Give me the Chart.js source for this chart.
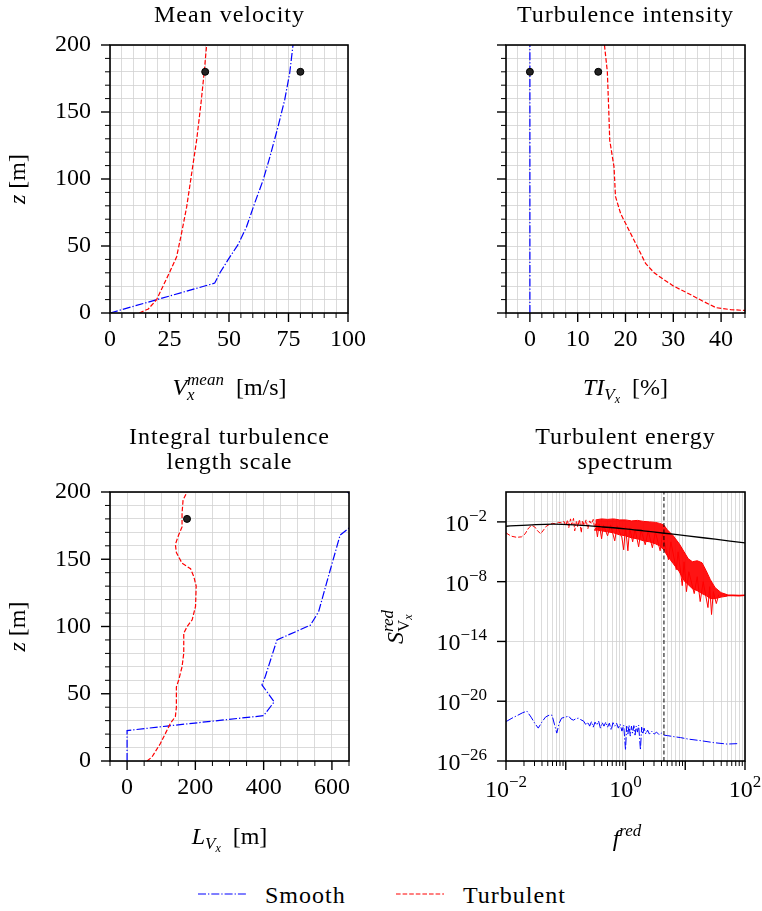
<!DOCTYPE html>
<html lang="en">
<head>
<meta charset="UTF-8">
<title>Wind profiles</title>
<script src="https://cdn.jsdelivr.net/npm/chart.js@4.4.1/dist/chart.umd.min.js"></script>
<style>
  body { margin: 0; background: #fff; }
  #fig { position: relative; width: 762px; height: 911px; overflow: hidden; }
  #fig canvas { position: absolute; }
  .key { position: absolute; font-family: 'Liberation Serif', serif; font-size: 24px; line-height: 24px; letter-spacing: 1px; color: #000; white-space: nowrap; }
  .swatch { position: absolute; }
</style>
</head>
<body>
<div id="fig">
  <canvas id="cVel" width="381" height="420" style="left:0;top:0"></canvas>
  <canvas id="cTi" width="392" height="420" style="left:370px;top:0"></canvas>
  <canvas id="cLen" width="381" height="440" style="left:0;top:420px"></canvas>
  <canvas id="cSpec" width="392" height="440" style="left:370px;top:420px"></canvas>

  <svg class="swatch" style="left:196px;top:888px" width="52" height="12">
    <line x1="2" y1="6" x2="50" y2="6" stroke="#0000ff" stroke-width="1.2" stroke-dasharray="8 2 1.3 2"/>
  </svg>
  <span class="key" style="left:265px;top:883px">Smooth</span>
  <svg class="swatch" style="left:394px;top:888px" width="52" height="12">
    <line x1="2" y1="6" x2="50" y2="6" stroke="#ff0000" stroke-width="1.2" stroke-dasharray="4.6 2"/>
  </svg>
  <span class="key" style="left:463px;top:883px">Turbulent</span>
</div>

<script>
// ---- data ----
// mean velocity [m/s] against height z [m]
const velSmoothZ = [0, 22.3, 30, 40, 51, 64, 82, 99, 116, 139, 159, 179, 200];
const velSmooth  = [0, 44.0, 46.2, 49.7, 53.8, 57.3, 60.8, 64.3, 67.1, 70.6, 73.4, 75.5, 76.9];
const velTurbZ = [0, 3, 10, 31, 42, 59, 79, 104, 129, 156, 180, 200];
const velTurb  = [12.3, 16.1, 19.6, 25.2, 28.0, 30.0, 32.2, 34.3, 36.4, 38.2, 39.6, 40.6];
const velRef = [40, 80];
const velRefZ = [180, 180];

// turbulence intensity [%]
const tiSmoothZ = [0, 200];
const tiSmooth  = [0, 0];
const tiTurbZ = [200, 180, 151, 129, 109, 87, 74, 62, 50, 37, 30, 25, 20, 15, 9, 4, 2.5, 2, 1.5];
const tiTurb  = [15.6, 16.2, 16.5, 16.7, 17.6, 17.9, 19.0, 20.7, 22.4, 24.2, 26.0, 28.0, 30.1, 32.9, 36.1, 38.9, 42.0, 44.5, 48.0];
const tiRef = [0, 14.3];
const tiRefZ = [180, 180];

// integral length scale [m]
const lenSmoothZ = [0, 22.6, 26, 33.7, 44, 56.6, 63, 90, 101, 111, 133, 168, 173, 185, 200];
const lenSmooth  = [0, 0, 117, 400, 431, 395, 405, 439, 537, 561, 585, 624, 649, 720, 645];
const lenTurbZ = [0, 3, 13, 28, 33, 40, 55, 60, 70, 80, 95, 100, 105, 115, 130, 137, 143, 147, 155, 161, 168, 174, 184, 194, 200];
const lenTurb  = [58.5, 73, 97.6, 127, 141.5, 144.4, 144.4, 151, 161, 166, 166, 176, 190.7, 200.5, 202.4, 195.6, 185.9, 161, 144.4, 141.5, 151, 161, 161, 164, 175.6];
const lenRef = [175.6];
const lenRefZ = [180];

// reduced spectra, pairs of [log10 f_red, log10 S_red]
// turbulent: sparse low-frequency part, dense noisy band (upper / lower edge), deep spikes, flat tail
const specTurbLow = [
  [-2.00,-3.10],[-1.95,-3.30],[-1.90,-3.45],[-1.82,-3.55],[-1.74,-3.50],[-1.68,-3.20],[-1.62,-2.60],
  [-1.57,-2.35],[-1.52,-2.50],[-1.47,-2.90],[-1.42,-3.20],[-1.37,-2.80],[-1.32,-2.40],[-1.27,-2.25],
  [-1.22,-2.15],[-1.17,-2.20],[-1.12,-2.05],[-1.07,-2.10],[-1.03,-1.95],
  [-1.00,-2.40],[-0.97,-1.80],[-0.95,-2.60],[-0.92,-1.70],[-0.90,-2.30],[-0.87,-1.65],[-0.85,-2.90],
  [-0.82,-1.90],[-0.80,-2.50],[-0.77,-1.75],[-0.74,-3.10],[-0.72,-1.85],[-0.69,-2.40],[-0.66,-1.80],
  [-0.63,-2.70],[-0.60,-1.90],[-0.57,-2.20],[-0.54,-1.75],[-0.51,-2.90],[-0.48,-1.85]
];
const specTurbUpper = [
  [-0.50,-1.80],[-0.40,-1.70],[-0.30,-1.75],[-0.20,-1.70],[-0.10,-1.80],[0.00,-1.80],[0.10,-1.90],
  [0.20,-1.85],[0.30,-1.95],[0.40,-2.00],[0.50,-2.05],[0.57,-2.15],[0.64,-2.30],[0.70,-2.80],
  [0.80,-3.40],[0.90,-4.20],[0.98,-5.00],[1.05,-5.70],[1.12,-6.00],[1.20,-5.90],[1.28,-6.10],
  [1.35,-6.90],[1.42,-7.80],[1.50,-8.60],[1.60,-9.10],[1.70,-9.30]
];
const specTurbLower = [
  [-0.50,-2.80],[-0.40,-2.90],[-0.30,-3.00],[-0.20,-3.10],[-0.10,-3.30],[0.00,-3.40],[0.10,-3.60],
  [0.20,-3.70],[0.30,-3.90],[0.40,-4.00],[0.50,-4.20],[0.57,-4.40],[0.64,-4.80],[0.70,-5.40],
  [0.80,-6.20],[0.90,-7.00],[0.98,-7.90],[1.05,-8.30],[1.12,-8.70],[1.20,-8.90],[1.28,-9.20],
  [1.35,-9.40],[1.42,-9.70],[1.50,-9.70],[1.60,-9.55],[1.70,-9.45]
];
const specTurbSpikes = [
  [-0.50,-2.20],[-0.47,-3.50],[-0.44,-2.20],[-0.40,-3.70],[-0.37,-2.30],[-0.30,-3.40],[-0.25,-2.30],
  [-0.18,-3.90],[-0.14,-2.40],[-0.06,-3.60],[-0.03,-4.80],[0.00,-2.50],[0.04,-4.90],[0.07,-2.60],
  [0.12,-4.00],[0.16,-2.70],[0.22,-4.50],[0.26,-2.80],[0.33,-4.30],[0.38,-2.90],[0.45,-4.60],
  [0.50,-3.00],[0.58,-4.90],[0.62,-3.20],[0.72,-5.80],[0.76,-4.00],[0.85,-6.80],[0.88,-5.00],
  [0.95,-8.40],[0.98,-6.00],[1.02,-9.00],[1.06,-7.00],[1.15,-9.20],[1.20,-7.50],[1.25,-10.00],
  [1.30,-8.00],[1.38,-10.60],[1.41,-8.50],[1.44,-11.30],[1.47,-9.00],[1.52,-10.20],[1.56,-9.30]
];
const specTurbTail = [[1.70,-9.38],[1.80,-9.38],[1.90,-9.40],[2.00,-9.37]];
const specSmooth = [
  [-2.00,-22.05],[-1.90,-21.70],[-1.80,-21.40],[-1.72,-21.15],[-1.65,-21.00],[-1.58,-21.60],
  [-1.52,-22.20],[-1.46,-22.70],[-1.40,-22.10],[-1.34,-21.60],[-1.28,-21.40],[-1.23,-21.40],
  [-1.19,-22.30],[-1.15,-23.20],[-1.11,-22.20],[-1.07,-21.70],[-1.01,-21.60],[-0.95,-21.50],
  [-0.91,-21.80],[-0.87,-21.90],[-0.83,-21.75],[-0.79,-21.70],[-0.75,-21.85],[-0.70,-22.00],
  [-0.66,-22.40],[-0.63,-22.10],[-0.60,-22.50],[-0.57,-22.05],[-0.54,-22.60],[-0.51,-22.10],
  [-0.48,-22.40],[-0.45,-22.00],[-0.42,-22.70],[-0.39,-22.15],[-0.36,-22.50],[-0.33,-22.10],
  [-0.30,-22.60],[-0.27,-22.20],[-0.24,-22.90],[-0.21,-22.15],[-0.18,-22.50],[-0.15,-22.20],
  [-0.12,-22.70],[-0.09,-22.30],[-0.06,-23.00],[-0.03,-22.40],[0.00,-24.90],[0.02,-22.50],
  [0.04,-23.30],[0.06,-22.40],[0.08,-23.50],[0.10,-22.50],[0.12,-23.20],[0.14,-22.45],
  [0.16,-23.40],[0.18,-22.50],[0.20,-23.10],[0.22,-22.40],[0.25,-24.90],[0.27,-22.60],
  [0.29,-23.30],[0.31,-22.70],[0.34,-23.30],[0.37,-22.90],[0.40,-23.30],[0.44,-23.00],
  [0.48,-23.30],[0.52,-23.10],[0.56,-23.35],[0.60,-23.20],[0.64,-23.40],[0.70,-23.45],
  [0.80,-23.55],[0.92,-23.65],[1.05,-23.80],[1.26,-23.96],[1.48,-24.16],[1.70,-24.30],[1.90,-24.25]
];
const kaimal = [[-2,-2.44],[-1.5,-2.27],[-1.2,-2.23],[-0.8,-2.33],[-0.4,-2.50],[0,-2.70],
  [0.3,-2.90],[0.65,-3.14],[1,-3.37],[1.5,-3.74],[2,-4.11]];
const fCut = 4.4;

// tick labels
const velXLabels = [0, 25, 50, 75, 100];
const zLabels = [0, 50, 100, 150, 200];
const tiXLabels = [0, 10, 20, 30, 40];
const lenXLabels = [0, 200, 400, 600];
const specXExp = [-2, 0, 2];
const specYExp = [-26, -20, -14, -8, -2];

// ---- drawing helpers ----
const SERIF = '"Liberation Serif", "DejaVu Serif", serif';
const BLUE = '#0000ff', RED = '#ff0000', GRID = '#d2d2d2';
const same = (a, b) => Math.abs(a - b) <= 1e-9 * Math.max(Math.abs(a), Math.abs(b));
const pts = (xs, ys) => xs.map((x, i) => ({x: x, y: ys[i]}));
const logPts = arr => arr.map(p => ({x: Math.pow(10, p[0]), y: Math.pow(10, p[1])}));
const range = (min, max, step) => Array.from({length: Math.round((max - min) / step) + 1}, (_, i) => +(min + i * step).toFixed(6));

// segments: [text, size, dy, italic, flag]; flag 'mark' remembers x, 'back' restarts there
function drawMath(ctx, segs, x, y, align, vertical) {
  let cx = 0, mark = 0, end = 0;
  const items = [];
  for (const [t, size, dy, it, flag] of segs) {
    ctx.font = (it ? 'italic ' : '') + size + 'px ' + SERIF;
    if (flag === 'back') cx = mark;
    if (flag === 'mark') mark = cx;
    items.push({t, font: ctx.font, x: cx, dy});
    cx += ctx.measureText(t).width;
    end = Math.max(end, cx);
    if (flag === 'back') cx = end;
  }
  const x0 = align === 'center' ? -end / 2 : align === 'right' ? -end : 0;
  ctx.save();
  ctx.translate(x, y);
  if (vertical) ctx.rotate(-Math.PI / 2);
  ctx.fillStyle = '#000';
  ctx.textAlign = 'left';
  ctx.textBaseline = 'alphabetic';
  for (const it of items) {
    ctx.font = it.font;
    ctx.fillText(it.t, x0 + it.x, it.dy);
  }
  ctx.restore();
}

const zLab = [['z', 24, 0, true], [' [m]', 24, 0, false]];
const panels = {
  cVel: {title: ['Mean velocity'], tx: 229.5, ty: 22, xMajor: velXLabels, yMajor: zLabels,
    xLabel: [['V', 24, 0, true], ['x', 17, 5, true, 'mark'], ['mean', 17, -10, true, 'back'], ['  [m/s]', 24, 0, false]],
    xAt: [229.5, 395], yLabel: zLab, yAt: [25, 179]},
  cTi: {title: ['Turbulence intensity'], tx: 255.5, ty: 22, xMajor: tiXLabels, yMajor: zLabels,
    xLabel: [['TI', 24, 0, true], ['V', 17, 5, true], ['x', 12, 8, true], ['  [%]', 24, 0, false]],
    xAt: [255.5, 395]},
  cLen: {title: ['Integral turbulence', 'length scale'], tx: 229.5, ty: 24, xMajor: lenXLabels, yMajor: zLabels,
    xLabel: [['L', 24, 0, true], ['V', 17, 5, true], ['x', 12, 8, true], ['  [m]', 24, 0, false]],
    xAt: [229.5, 424], yLabel: zLab, yAt: [25, 206.5]},
  cSpec: {title: ['Turbulent energy', 'spectrum'], tx: 255.5, ty: 24,
    xMajor: [-2, -1, 0, 1, 2].map(e => Math.pow(10, e)), yMajor: specYExp.map(e => Math.pow(10, e)),
    xLabel: [['f', 24, 0, true], ['red', 17, -10, true]], xAt: [257, 426],
    yLabel: [['S', 24, 0, true], ['V', 17, 6, false, 'mark'], ['x', 12, 9, true], ['red', 17, -10, true, 'back']],
    yAt: [33, 207], logLabels: true}
};

const framePlugin = {
  id: 'frame',
  afterDraw(chart) {
    const p = panels[chart.canvas.id];
    const {ctx, chartArea: a, scales} = chart;
    ctx.save();
    ctx.strokeStyle = '#000';
    for (const [id, majors] of [['x', p.xMajor], ['y', p.yMajor]]) {
      const s = scales[id];
      for (const t of s.ticks) {
        const major = majors.some(m => same(m, t.value));
        const len = major ? 9 : 5;
        const q = s.getPixelForValue(t.value);
        ctx.lineWidth = major ? 1.4 : 1;
        ctx.beginPath();
        if (id === 'x') { ctx.moveTo(q, a.bottom); ctx.lineTo(q, a.bottom + len); }
        else { ctx.moveTo(a.left, q); ctx.lineTo(a.left - len, q); }
        ctx.stroke();
      }
    }
    ctx.lineWidth = 1.6;
    ctx.strokeRect(a.left, a.top, a.right - a.left, a.bottom - a.top);

    ctx.fillStyle = '#000';
    ctx.textAlign = 'center';
    ctx.textBaseline = 'alphabetic';
    ctx.font = '24px ' + SERIF;
    ctx.letterSpacing = '1px';
    p.title.forEach((line, i) => ctx.fillText(line, p.tx, p.ty + i * 25));
    ctx.letterSpacing = '0px';
    drawMath(ctx, p.xLabel, p.xAt[0], p.xAt[1], 'center', false);
    if (p.yLabel) drawMath(ctx, p.yLabel, p.yAt[0], p.yAt[1], 'center', true);

    if (p.logLabels) {
      specXExp.forEach(e => {
        const q = scales.x.getPixelForValue(Math.pow(10, e));
        drawMath(ctx, [['10', 24, 0, false], [String(e).replace('-', '\u2212'), 17, -10, false]], q, a.bottom + 36, 'center');
      });
      specYExp.forEach(e => {
        const q = scales.y.getPixelForValue(Math.pow(10, e));
        drawMath(ctx, [['10', 24, 0, false], [String(e).replace('-', '\u2212'), 17, -10, false]], a.left - 19, q + 9, 'right');
      });
    }
    ctx.restore();
  }
};

function linAxis(min, max, step, majors, size, showLabels, horizontal) {
  return {
    type: 'linear', min: min, max: max,
    afterBuildTicks: s => { s.ticks = range(min, max, step).map(v => ({value: v})); },
    afterFit: s => { if (horizontal) s.height = size; else s.width = size; },
    grid: {color: GRID, lineWidth: 0.8, drawTicks: false},
    border: {display: false},
    ticks: {
      display: showLabels, autoSkip: false, maxRotation: 0, padding: horizontal ? 15 : 19,
      color: '#000', font: {family: SERIF, size: 24, lineHeight: 1},
      callback: v => majors.some(m => same(m, v)) ? String(v) : ''
    }
  };
}

function logAxis(min, max, tickVals, size, horizontal) {
  return {
    type: 'logarithmic', min: min, max: max,
    afterBuildTicks: s => { s.ticks = tickVals.map(v => ({value: v})); },
    afterFit: s => { if (horizontal) s.height = size; else s.width = size; },
    grid: {color: GRID, lineWidth: 0.8, drawTicks: false},
    border: {display: false},
    ticks: {display: false}
  };
}

const smoothStyle = {borderColor: BLUE, borderWidth: 1.2, borderDash: [8, 2, 1.3, 2], pointRadius: 0, tension: 0, order: 2};
const turbStyle = {borderColor: RED, borderWidth: 1.2, borderDash: [4.6, 2], pointRadius: 0, tension: 0, order: 1};
const refStyle = {showLine: false, pointRadius: 3.5, pointBackgroundColor: '#222', pointBorderColor: '#000', pointBorderWidth: 1, order: 0};

function makeChart(id, datasets, scales, padding) {
  return new Chart(document.getElementById(id), {
    type: 'line',
    data: {datasets: datasets},
    options: {
      responsive: false, animation: false, events: [],
      layout: {padding: padding},
      plugins: {legend: {display: false}, tooltip: {enabled: false}},
      scales: scales
    },
    plugins: [framePlugin]
  });
}

makeChart('cVel', [
  Object.assign({label: 'Smooth', data: pts(velSmooth, velSmoothZ)}, smoothStyle),
  Object.assign({label: 'Turbulent', data: pts(velTurb, velTurbZ)}, turbStyle),
  Object.assign({label: 'ref', data: pts(velRef, velRefZ)}, refStyle)
], {
  x: linAxis(0, 100, 5, velXLabels, 107, true, true),
  y: linAxis(0, 200, 10, zLabels, 110, true, false)
}, {left: 0, right: 32, top: 45, bottom: 0});

makeChart('cTi', [
  Object.assign({label: 'Smooth', data: pts(tiSmooth, tiSmoothZ)}, smoothStyle),
  Object.assign({label: 'Turbulent', data: pts(tiTurb, tiTurbZ)}, turbStyle),
  Object.assign({label: 'ref', data: pts(tiRef, tiRefZ)}, refStyle)
], {
  x: linAxis(-5, 45, 2.5, tiXLabels, 107, true, true),
  y: linAxis(0, 200, 10, zLabels, 136, false, false)
}, {left: 0, right: 17, top: 45, bottom: 0});

makeChart('cLen', [
  Object.assign({label: 'Smooth', data: pts(lenSmooth, lenSmoothZ)}, smoothStyle),
  Object.assign({label: 'Turbulent', data: pts(lenTurb, lenTurbZ)}, turbStyle),
  Object.assign({label: 'ref', data: pts(lenRef, lenRefZ)}, refStyle)
], {
  x: linAxis(-50, 650, 50, lenXLabels, 99, true, true),
  y: linAxis(0, 200, 10, zLabels, 110, true, false)
}, {left: 0, right: 32, top: 72, bottom: 0});

// log axis positions: every integer multiple inside each decade
const specXTicks = [];
for (let e = -2; e < 2; e++) for (let m = 1; m < 10; m++) specXTicks.push(m * Math.pow(10, e));
specXTicks.push(100);

const turbSolid = {borderColor: RED, borderWidth: 1, pointRadius: 0, tension: 0, order: 3};
makeChart('cSpec', [
  {label: 'Kaimal', data: logPts(kaimal), borderColor: '#000', borderWidth: 1.3, pointRadius: 0,
    cubicInterpolationMode: 'monotone', order: 0},
  {label: 'cut', data: [{x: fCut, y: 1e-26}, {x: fCut, y: 10}],
    borderColor: '#000', borderWidth: 1, borderDash: [4, 2.5], pointRadius: 0, order: 0},
  Object.assign({label: 'Smooth', data: logPts(specSmooth)}, smoothStyle, {borderWidth: 1}),
  Object.assign({label: 'Turbulent', data: logPts(specTurbLow)}, turbStyle, {borderWidth: 1, order: 3}),
  Object.assign({label: 'Turbulent band', data: logPts(specTurbUpper.concat(specTurbLower.slice().reverse())),
    fill: 'shape', backgroundColor: 'rgba(255,0,0,0.92)'}, turbSolid),
  Object.assign({label: 'Turbulent spikes', data: logPts(specTurbSpikes)}, turbSolid),
  Object.assign({label: 'Turbulent tail', data: logPts(specTurbTail)}, turbSolid, {borderWidth: 1.6})
], {
  x: logAxis(0.01, 100, specXTicks, 99, true),
  y: logAxis(1e-26, 10, specYExp.map(e => Math.pow(10, e)), 136, false)
}, {left: 0, right: 17, top: 72, bottom: 0});
</script>
</body>
</html>
